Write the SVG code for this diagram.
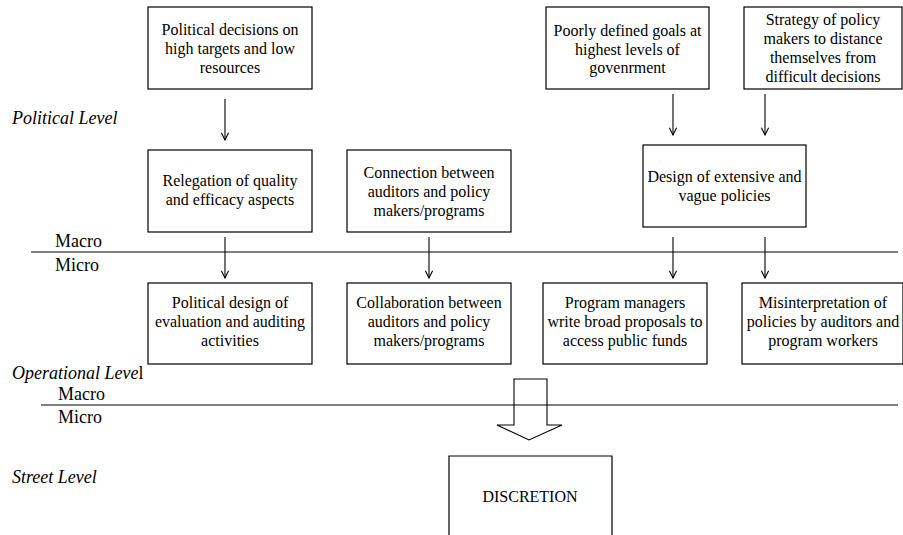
<svg xmlns="http://www.w3.org/2000/svg" width="903" height="535" viewBox="0 0 903 535">
<defs>
<marker id="v" viewBox="0 0 10 10" refX="9" refY="5" markerWidth="9" markerHeight="9" markerUnits="userSpaceOnUse" orient="auto">
<path d="M1,1 L9,5 L1,9" fill="none" stroke="#000" stroke-width="1.2"/>
</marker>
</defs>
<style>
.b{fill:#fff;stroke:#000;stroke-width:1.2}
text{font-family:'Liberation Serif','DejaVu Serif','Times New Roman',Times,serif;fill:#000}
.t{font-size:16px;text-anchor:middle}
.l{font-size:18px}
.i{font-style:italic}
.c{stroke:#000;stroke-width:1.1;fill:none}
.a{marker-end:url(#v)}
</style>
<rect width="903" height="535" fill="#fff"/>
<g id="labels">
<text class="l i" x="12" y="124">Political Level</text>
<text class="l" x="55" y="247">Macro</text>
<text class="l" x="55" y="271">Micro</text>
<text class="l" x="12" y="379"><tspan font-style="italic">Operational Leve</tspan>l</text>
<text class="l" x="58" y="400">Macro</text>
<text class="l" x="58" y="423">Micro</text>
<text class="l i" x="12" y="483">Street Level</text>
</g>
<g id="connectors">
<line class="c" x1="31" y1="252" x2="898" y2="252"/>
<line class="c" x1="41" y1="405" x2="898" y2="405"/>
<line class="c a" x1="225" y1="99" x2="225" y2="140"/>
<line class="c a" x1="673" y1="94" x2="673" y2="135"/>
<line class="c a" x1="765" y1="94" x2="765" y2="135"/>
<line class="c a" x1="225" y1="237" x2="225" y2="278"/>
<line class="c a" x1="429" y1="237" x2="429" y2="278"/>
<line class="c a" x1="673" y1="237" x2="673" y2="278"/>
<line class="c a" x1="765" y1="237" x2="765" y2="278"/>
<path class="c" d="M514,379 L547,379 L547,425 L562,425 L529,440 L497,425 L514,425 Z" fill="#fff"/>
</g>
<g id="n1"><rect class="b" x="148" y="7" width="164" height="82"/>
<text class="t" x="230" y="35">Political decisions on</text><text class="t" x="230" y="54">high targets and low</text><text class="t" x="230" y="73">resources</text></g>
<g id="n2"><rect class="b" x="546" y="7" width="163" height="82"/>
<text class="t" x="627.5" y="36">Poorly defined goals at</text><text class="t" x="627.5" y="55">highest levels of</text><text class="t" x="627.5" y="73">govenrment</text></g>
<g id="n3"><rect class="b" x="744" y="7" width="158" height="82"/>
<text class="t" x="823" y="25">Strategy of policy</text><text class="t" x="823" y="44">makers to distance</text><text class="t" x="823" y="63">themselves from</text><text class="t" x="823" y="82">difficult decisions</text></g>
<g id="n4"><rect class="b" x="148" y="150" width="164" height="82"/>
<text class="t" x="230" y="186">Relegation of quality</text><text class="t" x="230" y="205">and efficacy aspects</text></g>
<g id="n5"><rect class="b" x="347" y="150" width="164" height="82"/>
<text class="t" x="429" y="178">Connection between</text><text class="t" x="429" y="197">auditors and policy</text><text class="t" x="429" y="216">makers/programs</text></g>
<g id="n6"><rect class="b" x="643" y="145" width="163" height="82"/>
<text class="t" x="724.5" y="182">Design of extensive and</text><text class="t" x="724.5" y="201">vague policies</text></g>
<g id="n7"><rect class="b" x="148" y="283" width="164" height="81"/>
<text class="t" x="230" y="308">Political design of</text><text class="t" x="230" y="327">evaluation and auditing</text><text class="t" x="230" y="346">activities</text></g>
<g id="n8"><rect class="b" x="347" y="283" width="164" height="81"/>
<text class="t" x="429" y="308">Collaboration between</text><text class="t" x="429" y="327">auditors and policy</text><text class="t" x="429" y="346">makers/programs</text></g>
<g id="n9"><rect class="b" x="543" y="283" width="164" height="81"/>
<text class="t" x="625" y="308">Program managers</text><text class="t" x="625" y="327">write broad proposals to</text><text class="t" x="625" y="346">access public funds</text></g>
<g id="n10"><rect class="b" x="742" y="283" width="161" height="81"/>
<text class="t" x="823" y="308">Misinterpretation of</text><text class="t" x="823" y="327">policies by auditors and</text><text class="t" x="823" y="346">program workers</text></g>
<g id="n11"><path class="b" d="M449,540 L449,456 L612,456 L612,540" fill="#fff"/>
<text class="t" x="530" y="502">DISCRETION</text></g>
</svg>
